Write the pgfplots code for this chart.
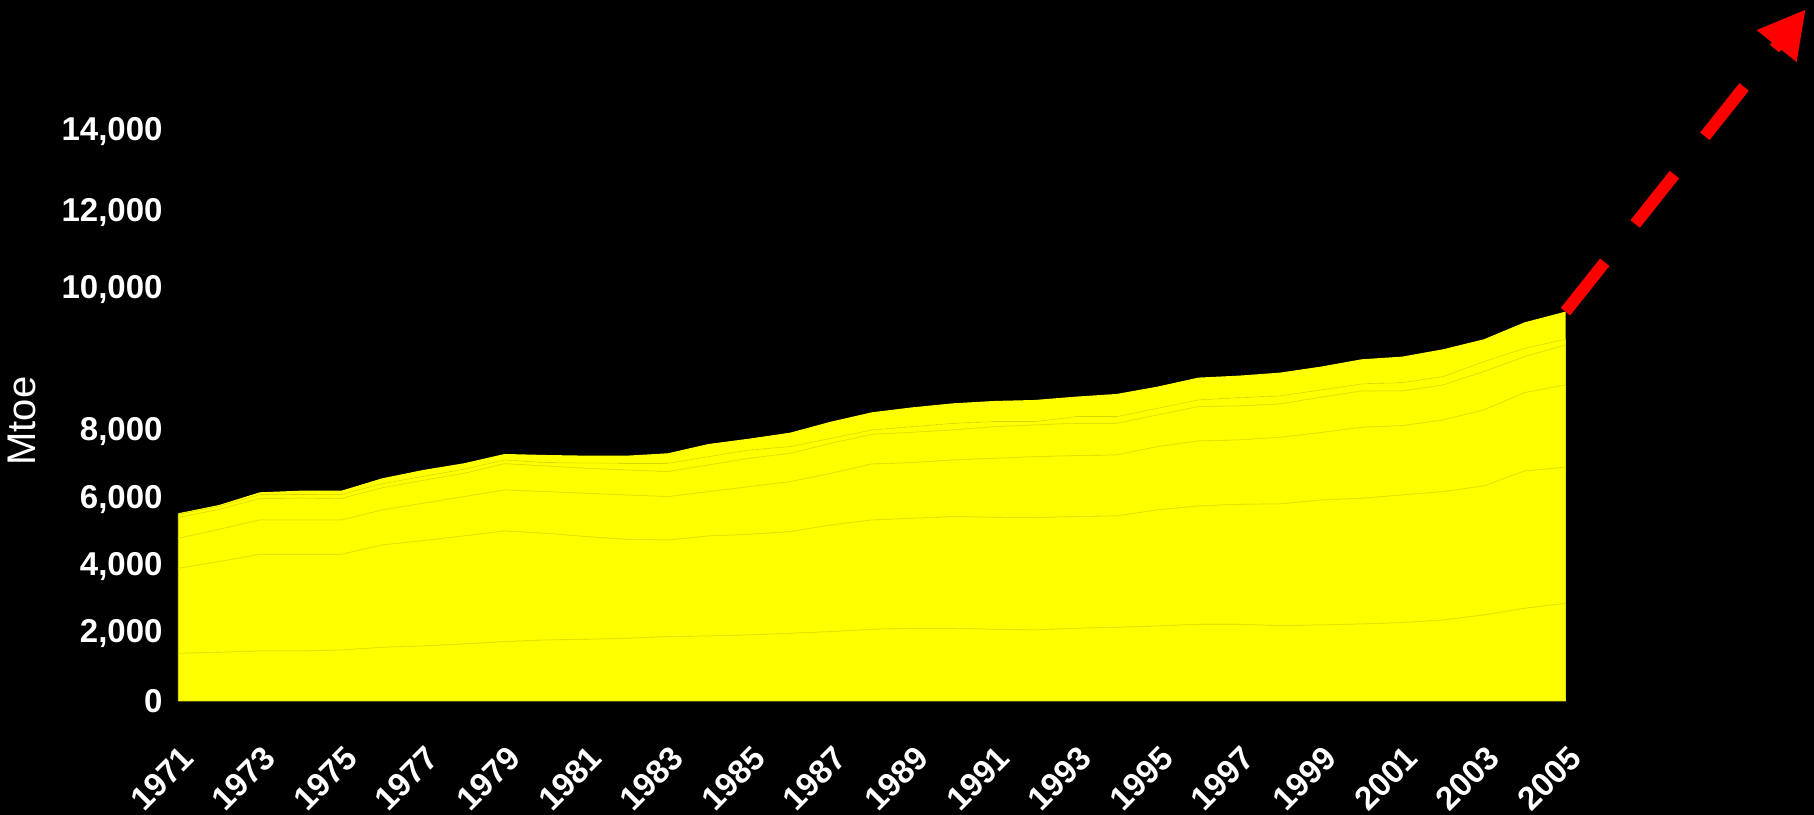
\documentclass[border=0pt]{standalone}
\usepackage{pgfplots}
\pgfplotsset{compat=1.18}
\usepackage{pgfplotstable}
\usepackage{fontspec}
\setmainfont{Liberation Sans}
\usetikzlibrary{arrows.meta}

\definecolor{fillyel}{RGB}{255,255,0}
\definecolor{edgeyel}{RGB}{228,228,0}

% world primary energy, Mtoe, stacked layers
\pgfplotstableread{
year coal oil  gas  comb hydro nuc
1971 1417 2526 891  616  100  28
1972 1447 2694 960  595  95   34
1973 1486 2873 1020 640  110  73
1974 1486 2873 1020 650  115  106
1975 1516 2843 1020 640  116  115
1976 1595 3041 1041 660  120  161
1977 1635 3130 1110 680  120  190
1978 1694 3210 1169 690  125  176
1979 1764 3288 1219 780  112  178
1980 1813 3170 1238 763  99   228
1981 1833 3051 1288 743  158  218
1982 1863 2942 1317 743  198  228
1983 1912 2873 1288 743  247  298
1984 1932 2972 1317 793  248  376
1985 1962 2991 1417 842  248  337
1986 2011 3021 1486 843  198  416
1987 2061 3170 1535 892  149  495
1988 2130 3249 1665 881  129  525
1989 2160 3269 1654 902  168  575
1990 2160 3319 1684 891  198  595
1991 2130 3329 1753 941  149  614
1992 2110 3339 1813 941  99   644
1993 2160 3319 1812 961  198  595
1994 2189 3309 1813 941  198  674
1995 2229 3448 1882 941  198  644
1996 2278 3517 1932 1021 198  664
1997 2278 3567 1912 1010 248  654
1998 2239 3616 1981 991  238  693
1999 2259 3715 2001 1050 218  693
2000 2288 3735 2110 1080 208  733
2001 2328 3794 2061 1030 248  773
2002 2407 3814 2130 1041 247  813
2003 2556 3834 2259 1139 297  664
2004 2754 4082 2328 1070 247  773
2005 2902 4043 2447 1188 169  822
}\energy

\begin{document}
\begin{tikzpicture}
\fill[black] (-71.32pt,-45.6pt) rectangle (654.28pt,280.4pt);
\begin{axis}[
    scale only axis,
    width=554.88pt, height=269.2pt,
    xmin=1971, xmax=2005, ymin=0, ymax=20000,
    enlargelimits=false,
    clip=false,
    axis line style={draw=none},
    major tick length=0pt,
    scaled y ticks=false,
    stack plots=y,
    xtick={1971,1973,...,2005},
    xticklabels={1971,1973,1975,1977,1979,1981,1983,1985,1987,1989,1991,1993,1995,1997,1999,2001,2003,2005},
    xticklabel style={xshift=4pt, yshift=-20.5pt, rotate=45, anchor=east, inner sep=0pt,
        font=\fontsize{13.2}{15}\selectfont\bfseries, text=white},
    ytick={0,2000,4000,6000,8000,12238,14518,16931},
    yticklabels={{0},{2,000},{4,000},{6,000},{8,000},{10,000},{12,000},{14,000}},
    yticklabel style={anchor=east, inner sep=0pt, xshift=-6.1pt,
        font=\fontsize{13.2}{15}\selectfont\bfseries, text=white},
    ylabel={Mtoe},
    ylabel style={at={(rel axis cs:-0.1127,0.416)}, anchor=center, rotate=0,
        font=\fontsize{16}{18}\selectfont, text=white},
]
\addplot[fill=fillyel, draw=edgeyel, line width=0.3pt] table[x=year, y=coal] {\energy} \closedcycle;
\addplot[fill=fillyel, draw=edgeyel, line width=0.3pt] table[x=year, y=oil] {\energy} \closedcycle;
\addplot[fill=fillyel, draw=edgeyel, line width=0.3pt] table[x=year, y=gas] {\energy} \closedcycle;
\addplot[fill=fillyel, draw=edgeyel, line width=0.3pt] table[x=year, y=comb] {\energy} \closedcycle;
\addplot[fill=fillyel, draw=edgeyel, line width=0.3pt] table[x=year, y=hydro] {\energy} \closedcycle;
\addplot[fill=fillyel, draw=none] table[x=year, y=nuc] {\energy} \closedcycle;
\end{axis}
\begin{axis}[
    scale only axis,
    width=554.88pt, height=269.2pt,
    xmin=1971, xmax=2005, ymin=0, ymax=20000,
    enlargelimits=false, clip=false, hide axis,
]
% projected growth
\addplot[red, line width=4.8pt, dash pattern=on 25.2pt off 19.6pt,
    -{Triangle[length=18.8pt, width=19pt]}] coordinates {(2005,11571) (2010.89,20557)};
\end{axis}
\pgfresetboundingbox
\path[use as bounding box] (-71.32pt,-45.6pt) rectangle (654.28pt,280.4pt);
\end{tikzpicture}
\end{document}
